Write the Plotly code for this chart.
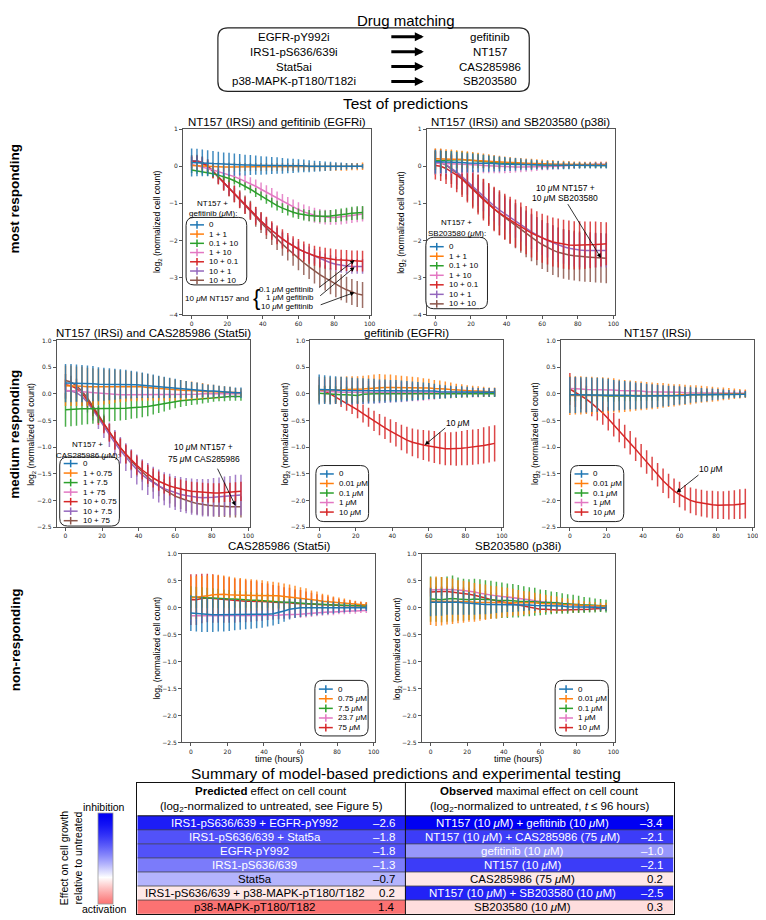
import plotly.graph_objects as go

# ---------------------------------------------------------------- data
HOURS = [0, 3, 6, 9, 12, 15, 18, 21, 24, 27, 30, 33, 36, 39, 42, 45, 48, 51, 54, 57,
         60, 63, 66, 69, 72, 75, 78, 81, 84, 87, 90, 93, 96]

COMBO_LABELS_GEF = ["0", "1 + 1", "0.1 + 10", "1 + 10", "10 + 0.1", "10 + 1", "10 + 10"]
COMBO_LABELS_SB = ["0", "1 + 1", "0.1 + 10", "1 + 10", "10 + 0.1", "10 + 1", "10 + 10"]
COMBO_LABELS_CAS = ["0", "1 + 0.75", "1 + 7.5", "1 + 75", "10 + 0.75", "10 + 7.5", "10 + 75"]
DOSE_LABELS_GEF = ["0", "0.01 μM", "0.1 μM", "1 μM", "10 μM"]
DOSE_LABELS_NT = ["0", "0.01 μM", "0.1 μM", "1 μM", "10 μM"]
DOSE_LABELS_CAS = ["0", "0.75 μM", "7.5 μM", "23.7 μM", "75 μM"]
DOSE_LABELS_SB = ["0", "0.01 μM", "0.1 μM", "1 μM", "10 μM"]

# Panel 1: NT157 + gefitinib
P1_MEANS = [
    [0.10,0.10,0.09,0.08,0.07,0.06,0.05,0.05,0.04,0.04,0.03,0.03,0.03,0.02,0.02,0.02,0.02,0.01,0.01,0.01,0.01,0.01,0.00,0.00,0.00,0.00,0.00,0.00,0.00,0.00,0.00,0.00,0.00],
    [0.02,0.01,0.00,-0.01,-0.02,-0.02,-0.02,-0.02,-0.02,-0.02,-0.02,-0.02,-0.02,-0.02,-0.02,-0.02,-0.02,-0.02,-0.02,-0.02,-0.02,-0.02,-0.02,-0.02,-0.02,-0.02,-0.02,-0.02,-0.02,-0.02,-0.01,-0.01,0.00],
    [-0.10,-0.12,-0.14,-0.17,-0.20,-0.24,-0.28,-0.33,-0.39,-0.46,-0.54,-0.62,-0.71,-0.80,-0.89,-0.98,-1.06,-1.13,-1.19,-1.24,-1.28,-1.31,-1.33,-1.34,-1.35,-1.35,-1.34,-1.33,-1.31,-1.29,-1.27,-1.26,-1.25],
    [0.05,0.02,-0.02,-0.06,-0.10,-0.14,-0.18,-0.23,-0.28,-0.34,-0.40,-0.47,-0.54,-0.62,-0.70,-0.78,-0.87,-0.95,-1.03,-1.10,-1.17,-1.23,-1.28,-1.32,-1.35,-1.37,-1.38,-1.38,-1.37,-1.35,-1.33,-1.31,-1.29],
    [0.12,0.13,0.08,0.00,-0.14,-0.29,-0.45,-0.60,-0.75,-0.90,-1.05,-1.20,-1.34,-1.48,-1.61,-1.73,-1.85,-1.96,-2.06,-2.15,-2.23,-2.30,-2.36,-2.41,-2.45,-2.48,-2.50,-2.52,-2.53,-2.54,-2.55,-2.55,-2.56],
    [0.13,0.14,0.09,0.00,-0.14,-0.29,-0.45,-0.60,-0.75,-0.90,-1.05,-1.20,-1.34,-1.48,-1.61,-1.73,-1.85,-1.96,-2.06,-2.15,-2.23,-2.30,-2.36,-2.43,-2.49,-2.55,-2.60,-2.64,-2.67,-2.69,-2.70,-2.70,-2.70],
    [0.15,0.15,0.10,0.01,-0.13,-0.28,-0.44,-0.59,-0.74,-0.89,-1.04,-1.19,-1.36,-1.52,-1.67,-1.82,-1.96,-2.10,-2.23,-2.36,-2.48,-2.60,-2.71,-2.82,-2.92,-3.01,-3.10,-3.18,-3.26,-3.33,-3.39,-3.44,-3.47],
]
P1_ERRS = [
    [0.38,0.37,0.36,0.35,0.34,0.33,0.32,0.31,0.30,0.29,0.28,0.27,0.26,0.25,0.24,0.23,0.22,0.21,0.20,0.19,0.18,0.17,0.16,0.15,0.14,0.13,0.12,0.11,0.10,0.09,0.08,0.07,0.06],
    [0.12,0.12,0.12,0.12,0.12,0.12,0.12,0.12,0.12,0.12,0.11,0.11,0.11,0.11,0.11,0.11,0.11,0.11,0.11,0.11,0.10,0.10,0.10,0.10,0.10,0.10,0.10,0.10,0.10,0.10,0.10,0.10,0.10],
    [0.08,0.08,0.08,0.09,0.09,0.09,0.10,0.10,0.10,0.11,0.11,0.11,0.12,0.12,0.12,0.13,0.13,0.13,0.14,0.14,0.14,0.15,0.15,0.15,0.16,0.16,0.16,0.17,0.17,0.17,0.18,0.18,0.18],
    [0.10,0.11,0.12,0.12,0.13,0.14,0.14,0.15,0.16,0.16,0.17,0.17,0.18,0.18,0.19,0.19,0.19,0.20,0.20,0.20,0.20,0.20,0.20,0.20,0.20,0.20,0.20,0.20,0.20,0.20,0.20,0.20,0.20],
    [0.15,0.16,0.17,0.18,0.19,0.20,0.21,0.21,0.22,0.22,0.23,0.23,0.24,0.24,0.25,0.25,0.25,0.26,0.26,0.26,0.27,0.27,0.27,0.27,0.28,0.28,0.28,0.28,0.28,0.28,0.28,0.28,0.28],
    [0.12,0.13,0.14,0.15,0.15,0.16,0.16,0.17,0.17,0.18,0.18,0.18,0.19,0.19,0.19,0.20,0.20,0.20,0.20,0.20,0.20,0.20,0.20,0.20,0.20,0.20,0.20,0.20,0.20,0.20,0.20,0.20,0.20],
    [0.15,0.16,0.17,0.18,0.19,0.20,0.21,0.22,0.23,0.24,0.25,0.26,0.27,0.28,0.29,0.30,0.30,0.31,0.31,0.32,0.32,0.33,0.33,0.34,0.34,0.34,0.35,0.35,0.35,0.35,0.35,0.35,0.35],
]

# Panel 2: NT157 + SB203580
P2_MEANS = [
    [0.12,0.12,0.11,0.11,0.10,0.10,0.09,0.09,0.08,0.08,0.07,0.07,0.06,0.06,0.05,0.05,0.05,0.04,0.04,0.04,0.03,0.03,0.03,0.03,0.02,0.02,0.02,0.02,0.02,0.02,0.02,0.02,0.02],
    [0.20,0.20,0.19,0.19,0.18,0.18,0.17,0.16,0.15,0.14,0.13,0.12,0.11,0.10,0.10,0.09,0.08,0.08,0.07,0.07,0.06,0.06,0.06,0.05,0.05,0.05,0.04,0.04,0.04,0.04,0.04,0.04,0.04],
    [0.15,0.16,0.17,0.18,0.18,0.18,0.17,0.16,0.15,0.13,0.12,0.10,0.09,0.08,0.07,0.06,0.05,0.05,0.04,0.04,0.03,0.03,0.03,0.02,0.02,0.02,0.02,0.02,0.02,0.02,0.02,0.02,0.02],
    [0.08,0.08,0.07,0.07,0.06,0.05,0.05,0.04,0.03,0.02,0.01,0.00,-0.01,-0.02,-0.02,-0.02,-0.02,-0.02,-0.02,-0.02,-0.01,-0.01,0.00,0.00,0.01,0.02,0.02,0.03,0.04,0.04,0.05,0.05,0.05],
    [0.02,0.00,-0.06,-0.14,-0.24,-0.35,-0.48,-0.62,-0.76,-0.90,-1.03,-1.15,-1.26,-1.36,-1.45,-1.54,-1.63,-1.72,-1.80,-1.87,-1.94,-1.99,-2.04,-2.07,-2.10,-2.12,-2.13,-2.13,-2.13,-2.12,-2.11,-2.10,-2.09],
    [0.12,0.10,0.04,-0.05,-0.16,-0.28,-0.41,-0.55,-0.69,-0.82,-0.95,-1.07,-1.18,-1.28,-1.38,-1.48,-1.58,-1.68,-1.77,-1.85,-1.93,-2.00,-2.06,-2.12,-2.17,-2.21,-2.24,-2.26,-2.27,-2.27,-2.27,-2.27,-2.27],
    [0.12,0.10,0.03,-0.07,-0.19,-0.32,-0.46,-0.60,-0.74,-0.88,-1.02,-1.15,-1.27,-1.38,-1.49,-1.60,-1.71,-1.82,-1.92,-2.02,-2.11,-2.19,-2.26,-2.32,-2.36,-2.39,-2.41,-2.43,-2.44,-2.45,-2.46,-2.47,-2.48],
]
P2_ERRS = [
    [0.32,0.31,0.30,0.29,0.28,0.27,0.26,0.25,0.24,0.23,0.22,0.21,0.20,0.19,0.18,0.17,0.16,0.15,0.14,0.13,0.12,0.12,0.11,0.11,0.10,0.10,0.09,0.09,0.08,0.08,0.08,0.08,0.08],
    [0.28,0.27,0.27,0.26,0.25,0.24,0.23,0.22,0.21,0.20,0.19,0.18,0.17,0.16,0.15,0.14,0.14,0.13,0.13,0.12,0.12,0.11,0.11,0.10,0.10,0.09,0.09,0.09,0.08,0.08,0.08,0.08,0.08],
    [0.25,0.25,0.24,0.24,0.23,0.22,0.21,0.20,0.19,0.18,0.17,0.16,0.15,0.14,0.13,0.12,0.12,0.11,0.11,0.10,0.10,0.09,0.09,0.08,0.08,0.08,0.07,0.07,0.07,0.07,0.07,0.07,0.07],
    [0.30,0.29,0.28,0.27,0.26,0.25,0.24,0.23,0.22,0.21,0.20,0.19,0.18,0.17,0.16,0.15,0.14,0.13,0.12,0.11,0.10,0.10,0.09,0.09,0.08,0.08,0.08,0.07,0.07,0.07,0.07,0.07,0.07],
    [0.38,0.40,0.42,0.44,0.46,0.48,0.50,0.52,0.54,0.56,0.58,0.60,0.61,0.62,0.63,0.64,0.65,0.65,0.66,0.66,0.66,0.66,0.66,0.66,0.66,0.66,0.65,0.65,0.64,0.63,0.62,0.60,0.58],
    [0.30,0.31,0.32,0.33,0.34,0.35,0.36,0.37,0.38,0.39,0.40,0.41,0.42,0.43,0.44,0.45,0.45,0.46,0.46,0.46,0.46,0.46,0.46,0.46,0.46,0.46,0.46,0.46,0.46,0.46,0.46,0.46,0.46],
    [0.35,0.37,0.39,0.41,0.43,0.45,0.47,0.49,0.51,0.53,0.55,0.57,0.58,0.59,0.60,0.61,0.62,0.63,0.64,0.65,0.66,0.66,0.67,0.67,0.67,0.67,0.67,0.67,0.67,0.67,0.67,0.67,0.67],
]

# Panel 3: NT157 + CAS285986
P3_MEANS = [
    [0.20,0.20,0.20,0.19,0.19,0.19,0.18,0.18,0.18,0.18,0.18,0.18,0.17,0.17,0.16,0.15,0.14,0.13,0.12,0.11,0.10,0.09,0.08,0.07,0.07,0.06,0.05,0.05,0.04,0.03,0.03,0.02,0.02],
    [0.15,0.15,0.14,0.14,0.13,0.13,0.13,0.13,0.13,0.14,0.14,0.14,0.14,0.13,0.13,0.12,0.11,0.10,0.09,0.08,0.07,0.07,0.06,0.06,0.05,0.05,0.04,0.04,0.03,0.03,0.03,0.02,0.02],
    [-0.30,-0.29,-0.29,-0.28,-0.28,-0.28,-0.28,-0.28,-0.27,-0.27,-0.27,-0.27,-0.26,-0.26,-0.25,-0.24,-0.22,-0.20,-0.18,-0.16,-0.14,-0.13,-0.12,-0.11,-0.10,-0.09,-0.08,-0.07,-0.06,-0.06,-0.05,-0.05,-0.05],
    [0.06,0.06,0.05,0.04,0.03,0.02,0.01,0.00,-0.01,-0.01,-0.02,-0.02,-0.02,-0.02,-0.02,-0.02,-0.02,-0.02,-0.02,-0.02,-0.01,-0.01,-0.01,-0.01,-0.01,0.00,0.00,0.00,0.00,0.00,0.00,0.00,0.00],
    [0.17,0.15,0.10,0.01,-0.12,-0.27,-0.42,-0.58,-0.73,-0.88,-1.01,-1.13,-1.24,-1.34,-1.43,-1.51,-1.58,-1.64,-1.69,-1.73,-1.76,-1.79,-1.81,-1.83,-1.84,-1.85,-1.86,-1.86,-1.86,-1.85,-1.85,-1.84,-1.83],
    [0.05,0.05,0.02,-0.05,-0.16,-0.30,-0.45,-0.61,-0.77,-0.92,-1.06,-1.19,-1.31,-1.42,-1.52,-1.60,-1.67,-1.73,-1.78,-1.82,-1.86,-1.89,-1.91,-1.93,-1.94,-1.95,-1.95,-1.94,-1.93,-1.92,-1.91,-1.90,-1.90],
    [0.25,0.22,0.15,0.05,-0.08,-0.23,-0.39,-0.56,-0.72,-0.87,-1.01,-1.14,-1.26,-1.37,-1.47,-1.56,-1.65,-1.73,-1.80,-1.86,-1.92,-1.96,-2.00,-2.03,-2.06,-2.08,-2.09,-2.10,-2.11,-2.11,-2.12,-2.12,-2.12],
]
P3_ERRS = [
    [0.36,0.36,0.35,0.35,0.34,0.33,0.32,0.31,0.30,0.29,0.28,0.27,0.26,0.25,0.24,0.23,0.22,0.21,0.20,0.19,0.18,0.17,0.16,0.15,0.14,0.13,0.12,0.12,0.11,0.11,0.10,0.10,0.10],
    [0.38,0.38,0.37,0.37,0.36,0.35,0.34,0.33,0.32,0.31,0.30,0.29,0.28,0.27,0.26,0.25,0.24,0.23,0.22,0.21,0.20,0.19,0.18,0.17,0.16,0.15,0.14,0.13,0.12,0.11,0.10,0.09,0.08],
    [0.32,0.32,0.31,0.30,0.29,0.28,0.27,0.26,0.25,0.24,0.23,0.22,0.21,0.20,0.19,0.18,0.17,0.16,0.15,0.14,0.13,0.12,0.11,0.10,0.10,0.09,0.09,0.08,0.08,0.08,0.08,0.08,0.08],
    [0.14,0.14,0.13,0.13,0.12,0.12,0.12,0.11,0.11,0.11,0.10,0.10,0.10,0.09,0.09,0.09,0.08,0.08,0.08,0.07,0.07,0.07,0.06,0.06,0.06,0.06,0.05,0.05,0.05,0.05,0.05,0.05,0.05],
    [0.10,0.11,0.12,0.13,0.14,0.15,0.16,0.16,0.17,0.17,0.17,0.18,0.18,0.18,0.18,0.18,0.18,0.18,0.18,0.18,0.18,0.18,0.18,0.18,0.18,0.18,0.18,0.18,0.18,0.18,0.18,0.18,0.18],
    [0.15,0.16,0.17,0.18,0.19,0.20,0.21,0.22,0.23,0.24,0.25,0.26,0.27,0.28,0.29,0.30,0.30,0.31,0.31,0.32,0.32,0.33,0.33,0.34,0.34,0.35,0.35,0.36,0.36,0.37,0.37,0.38,0.38],
    [0.12,0.12,0.13,0.13,0.14,0.14,0.15,0.15,0.16,0.16,0.17,0.17,0.18,0.18,0.18,0.19,0.19,0.19,0.20,0.20,0.20,0.20,0.20,0.20,0.20,0.20,0.20,0.20,0.20,0.20,0.20,0.20,0.20],
]

# Panel 4: gefitinib alone
P4_MEANS = [
    [0.08,0.08,0.07,0.07,0.06,0.06,0.05,0.05,0.05,0.05,0.05,0.05,0.05,0.05,0.05,0.05,0.05,0.05,0.05,0.05,0.05,0.05,0.04,0.04,0.04,0.04,0.04,0.04,0.03,0.03,0.03,0.03,0.03],
    [0.07,0.07,0.06,0.06,0.07,0.08,0.08,0.08,0.09,0.10,0.11,0.12,0.12,0.12,0.12,0.12,0.12,0.12,0.12,0.11,0.11,0.10,0.10,0.09,0.08,0.07,0.07,0.06,0.05,0.05,0.04,0.04,0.04],
    [0.01,0.00,0.00,-0.01,-0.02,-0.02,-0.02,-0.03,-0.01,0.00,0.00,0.00,0.00,0.00,0.00,0.00,0.00,0.00,0.00,0.00,0.00,0.00,0.00,0.00,0.00,0.00,0.00,0.00,0.00,0.00,0.00,0.00,0.00],
    [0.05,0.05,0.04,0.04,0.03,0.03,0.03,0.03,0.03,0.03,0.03,0.03,0.03,0.03,0.03,0.03,0.03,0.03,0.02,0.02,0.02,0.02,0.02,0.02,0.02,0.02,0.02,0.02,0.02,0.02,0.02,0.02,0.02],
    [0.07,0.05,0.00,-0.06,-0.12,-0.18,-0.23,-0.30,-0.37,-0.44,-0.51,-0.58,-0.64,-0.70,-0.76,-0.82,-0.87,-0.91,-0.94,-0.96,-0.98,-1.00,-1.02,-1.03,-1.03,-1.03,-1.02,-1.01,-1.00,-0.99,-0.97,-0.95,-0.93],
]
P4_ERRS = [
    [0.28,0.27,0.27,0.26,0.26,0.25,0.25,0.24,0.24,0.23,0.23,0.22,0.22,0.21,0.21,0.20,0.19,0.18,0.17,0.16,0.15,0.14,0.13,0.12,0.11,0.10,0.10,0.09,0.09,0.08,0.08,0.08,0.08],
    [0.25,0.25,0.25,0.25,0.25,0.25,0.25,0.25,0.25,0.25,0.25,0.25,0.24,0.24,0.23,0.22,0.21,0.20,0.19,0.18,0.17,0.16,0.15,0.14,0.13,0.12,0.11,0.10,0.10,0.09,0.09,0.08,0.08],
    [0.15,0.15,0.15,0.15,0.15,0.15,0.15,0.15,0.14,0.14,0.14,0.14,0.13,0.13,0.13,0.12,0.12,0.12,0.11,0.11,0.10,0.10,0.09,0.09,0.08,0.08,0.07,0.07,0.06,0.06,0.06,0.06,0.06],
    [0.22,0.22,0.22,0.22,0.22,0.22,0.22,0.22,0.22,0.21,0.21,0.21,0.20,0.20,0.19,0.19,0.18,0.17,0.16,0.15,0.14,0.13,0.12,0.11,0.11,0.10,0.10,0.09,0.09,0.09,0.08,0.08,0.08],
    [0.10,0.10,0.11,0.12,0.13,0.14,0.15,0.16,0.17,0.18,0.19,0.20,0.21,0.22,0.23,0.24,0.25,0.26,0.27,0.28,0.29,0.30,0.30,0.31,0.31,0.32,0.32,0.33,0.33,0.33,0.34,0.34,0.34],
]

# Panel 5: NT157 alone
P5_MEANS = [
    [-0.02,-0.02,-0.02,-0.02,-0.02,-0.02,-0.02,-0.02,-0.03,-0.03,-0.03,-0.03,-0.04,-0.04,-0.04,-0.04,-0.04,-0.04,-0.04,-0.03,-0.03,-0.03,-0.02,-0.02,-0.02,-0.02,-0.01,-0.01,-0.01,-0.01,-0.01,-0.01,-0.01],
    [-0.03,-0.03,-0.03,-0.03,-0.03,-0.03,-0.03,-0.03,-0.03,-0.04,-0.04,-0.04,-0.04,-0.04,-0.04,-0.04,-0.04,-0.03,-0.03,-0.03,-0.02,-0.02,-0.02,-0.01,-0.01,-0.01,-0.01,-0.01,0.00,0.00,0.00,0.00,0.00],
    [-0.02,-0.02,-0.02,-0.03,-0.03,-0.03,-0.03,-0.04,-0.04,-0.04,-0.04,-0.04,-0.04,-0.04,-0.04,-0.04,-0.04,-0.04,-0.03,-0.03,-0.03,-0.02,-0.02,-0.02,-0.02,-0.01,-0.01,-0.01,-0.01,-0.01,-0.01,-0.01,-0.01],
    [0.10,0.10,0.09,0.08,0.08,0.08,0.08,0.07,0.07,0.06,0.06,0.05,0.05,0.05,0.04,0.04,0.04,0.03,0.03,0.03,0.03,0.02,0.02,0.02,0.02,0.02,0.02,0.02,0.01,0.01,0.01,0.01,0.01],
    [0.09,0.03,-0.03,-0.10,-0.18,-0.27,-0.36,-0.47,-0.58,-0.69,-0.80,-0.92,-1.04,-1.16,-1.28,-1.40,-1.52,-1.63,-1.73,-1.82,-1.89,-1.95,-2.00,-2.03,-2.05,-2.07,-2.08,-2.09,-2.09,-2.09,-2.08,-2.07,-2.06],
]
P5_ERRS = [
    [0.34,0.34,0.33,0.33,0.32,0.32,0.31,0.30,0.29,0.28,0.27,0.26,0.25,0.24,0.23,0.22,0.21,0.20,0.19,0.18,0.17,0.16,0.15,0.14,0.13,0.12,0.11,0.10,0.09,0.08,0.07,0.07,0.06],
    [0.37,0.36,0.36,0.35,0.35,0.34,0.34,0.33,0.32,0.31,0.30,0.29,0.28,0.27,0.26,0.25,0.24,0.23,0.22,0.21,0.20,0.19,0.18,0.17,0.16,0.15,0.14,0.13,0.12,0.11,0.10,0.09,0.08],
    [0.12,0.12,0.12,0.12,0.12,0.11,0.11,0.11,0.11,0.10,0.10,0.10,0.10,0.09,0.09,0.09,0.09,0.08,0.08,0.08,0.08,0.07,0.07,0.07,0.07,0.06,0.06,0.06,0.06,0.05,0.05,0.05,0.05],
    [0.20,0.20,0.19,0.19,0.18,0.18,0.17,0.17,0.16,0.16,0.15,0.15,0.14,0.14,0.13,0.13,0.12,0.12,0.11,0.11,0.10,0.10,0.09,0.09,0.08,0.08,0.07,0.07,0.07,0.06,0.06,0.06,0.06],
    [0.30,0.28,0.26,0.25,0.24,0.23,0.22,0.22,0.22,0.22,0.22,0.22,0.22,0.22,0.22,0.22,0.22,0.23,0.23,0.23,0.24,0.24,0.24,0.25,0.25,0.25,0.26,0.26,0.26,0.27,0.27,0.28,0.28],
]

# Panel 6: CAS285986 alone
P6_MEANS = [
    [-0.10,-0.11,-0.12,-0.13,-0.13,-0.13,-0.13,-0.13,-0.13,-0.13,-0.13,-0.13,-0.13,-0.13,-0.12,-0.11,-0.09,-0.06,-0.03,-0.01,0.00,0.00,0.00,0.00,0.00,0.00,0.00,0.00,0.00,0.00,0.00,0.00,0.00],
    [0.18,0.19,0.20,0.22,0.24,0.25,0.25,0.24,0.23,0.23,0.23,0.23,0.23,0.23,0.22,0.22,0.22,0.21,0.20,0.19,0.18,0.17,0.15,0.14,0.12,0.11,0.10,0.09,0.08,0.07,0.06,0.05,0.05],
    [0.20,0.19,0.19,0.18,0.18,0.17,0.17,0.16,0.16,0.15,0.15,0.14,0.14,0.13,0.13,0.12,0.11,0.10,0.10,0.09,0.08,0.08,0.07,0.07,0.06,0.06,0.05,0.05,0.04,0.04,0.04,0.03,0.03],
    [-0.15,-0.15,-0.15,-0.15,-0.15,-0.15,-0.15,-0.15,-0.15,-0.15,-0.15,-0.15,-0.15,-0.15,-0.14,-0.14,-0.14,-0.13,-0.13,-0.12,-0.12,-0.11,-0.10,-0.10,-0.09,-0.08,-0.08,-0.07,-0.07,-0.06,-0.06,-0.05,-0.05],
    [0.15,0.15,0.17,0.18,0.17,0.16,0.15,0.14,0.13,0.13,0.12,0.12,0.12,0.11,0.11,0.10,0.10,0.09,0.09,0.08,0.08,0.07,0.07,0.06,0.06,0.05,0.05,0.04,0.04,0.04,0.03,0.03,0.03],
]
P6_ERRS = [
    [0.33,0.33,0.33,0.32,0.32,0.31,0.31,0.30,0.29,0.28,0.27,0.26,0.25,0.24,0.23,0.22,0.21,0.20,0.19,0.18,0.17,0.16,0.15,0.14,0.13,0.12,0.11,0.10,0.09,0.08,0.07,0.06,0.06],
    [0.40,0.40,0.39,0.38,0.37,0.36,0.35,0.34,0.33,0.32,0.31,0.30,0.29,0.28,0.27,0.26,0.25,0.24,0.23,0.22,0.20,0.19,0.17,0.16,0.14,0.13,0.11,0.10,0.09,0.08,0.07,0.06,0.05],
    [0.20,0.20,0.19,0.19,0.18,0.18,0.17,0.17,0.16,0.16,0.15,0.15,0.14,0.14,0.13,0.13,0.12,0.12,0.11,0.11,0.10,0.10,0.09,0.09,0.08,0.08,0.07,0.07,0.06,0.06,0.05,0.05,0.05],
    [0.10,0.10,0.10,0.10,0.10,0.10,0.10,0.10,0.10,0.10,0.09,0.09,0.09,0.09,0.09,0.08,0.08,0.08,0.08,0.07,0.07,0.07,0.07,0.06,0.06,0.06,0.06,0.05,0.05,0.05,0.05,0.05,0.05],
    [0.47,0.47,0.46,0.45,0.45,0.44,0.43,0.42,0.41,0.40,0.39,0.38,0.37,0.35,0.34,0.32,0.31,0.29,0.28,0.26,0.25,0.23,0.21,0.19,0.17,0.16,0.14,0.12,0.11,0.10,0.09,0.08,0.07],
]

# Panel 7: SB203580 alone
P7_MEANS = [
    [0.10,0.10,0.10,0.11,0.11,0.10,0.09,0.08,0.07,0.07,0.06,0.06,0.06,0.06,0.06,0.05,0.05,0.05,0.05,0.04,0.04,0.04,0.03,0.03,0.03,0.02,0.02,0.02,0.01,0.01,0.01,0.00,0.00],
    [0.12,0.12,0.12,0.12,0.12,0.11,0.11,0.11,0.10,0.10,0.10,0.10,0.10,0.10,0.10,0.10,0.09,0.09,0.09,0.09,0.08,0.08,0.07,0.07,0.06,0.06,0.05,0.05,0.04,0.04,0.03,0.03,0.03],
    [0.16,0.15,0.15,0.16,0.17,0.16,0.15,0.15,0.16,0.16,0.15,0.15,0.14,0.14,0.13,0.13,0.12,0.12,0.11,0.11,0.10,0.10,0.09,0.09,0.08,0.07,0.07,0.06,0.05,0.05,0.04,0.04,0.03],
    [0.33,0.34,0.34,0.34,0.34,0.33,0.32,0.31,0.29,0.27,0.25,0.23,0.22,0.21,0.20,0.19,0.18,0.17,0.15,0.13,0.11,0.10,0.09,0.08,0.07,0.06,0.05,0.04,0.03,0.02,0.02,0.01,0.01],
    [0.29,0.30,0.30,0.30,0.29,0.28,0.27,0.25,0.23,0.21,0.18,0.15,0.13,0.11,0.09,0.07,0.05,0.03,0.01,-0.01,-0.03,-0.03,-0.04,-0.04,-0.04,-0.04,-0.04,-0.04,-0.03,-0.03,-0.02,-0.02,-0.01],
]
P7_ERRS = [
    [0.26,0.25,0.25,0.24,0.24,0.23,0.22,0.21,0.20,0.19,0.18,0.17,0.16,0.15,0.14,0.13,0.12,0.11,0.10,0.10,0.09,0.09,0.08,0.08,0.07,0.07,0.06,0.06,0.06,0.05,0.05,0.05,0.05],
    [0.44,0.46,0.45,0.43,0.42,0.40,0.39,0.37,0.36,0.34,0.33,0.31,0.30,0.28,0.27,0.25,0.24,0.22,0.21,0.19,0.18,0.16,0.15,0.14,0.12,0.11,0.10,0.09,0.08,0.07,0.07,0.06,0.06],
    [0.42,0.41,0.42,0.42,0.43,0.40,0.39,0.38,0.38,0.37,0.36,0.35,0.34,0.33,0.32,0.31,0.30,0.28,0.27,0.26,0.24,0.23,0.21,0.20,0.19,0.18,0.17,0.16,0.15,0.14,0.13,0.12,0.12],
    [0.06,0.06,0.06,0.06,0.06,0.06,0.06,0.06,0.06,0.06,0.06,0.06,0.06,0.06,0.06,0.06,0.06,0.06,0.06,0.06,0.06,0.06,0.05,0.05,0.05,0.05,0.05,0.05,0.05,0.05,0.05,0.05,0.05],
    [0.08,0.08,0.08,0.08,0.08,0.08,0.08,0.08,0.08,0.08,0.07,0.07,0.07,0.07,0.07,0.07,0.07,0.07,0.06,0.06,0.06,0.06,0.06,0.06,0.05,0.05,0.05,0.05,0.05,0.05,0.05,0.05,0.05],
]

# Drug matching
TARGETS = ["EGFR-pY992i", "IRS1-pS636/639i", "Stat5ai", "p38-MAPK-pT180/T182i"]
DRUGS = ["gefitinib", "NT157", "CAS285986", "SB203580"]

# Summary table
PRED_LABELS = ["IRS1-pS636/639 + EGFR-pY992", "IRS1-pS636/639 + Stat5a", "EGFR-pY992",
               "IRS1-pS636/639", "Stat5a", "IRS1-pS636/639 + p38-MAPK-pT180/T182",
               "p38-MAPK-pT180/T182"]
PRED_VALUES = [-2.6, -1.8, -1.8, -1.3, -0.7, 0.2, 1.4]
OBS_LABELS = ["NT157 (10 μM) + gefitinib (10 μM)", "NT157 (10 μM) + CAS285986 (75 μM)",
              "gefitinib (10 μM)", "NT157 (10 μM)", "CAS285986 (75 μM)",
              "NT157 (10 μM) + SB203580 (10 μM)", "SB203580 (10 μM)"]
OBS_VALUES = [-3.4, -2.1, -1.0, -2.1, 0.2, -2.5, 0.3]

# ---------------------------------------------------------------- style
W, H = 766, 920
OFF = 8          # page body margin of the browser
SERIES_COLORS = ["#1f77b4", "#ff7f0e", "#2ca02c", "#e377c2", "#d62728", "#9467bd", "#8c564b"]
SANS = "Liberation Sans, Arial, sans-serif"
TICKFONT = dict(family="DejaVu Sans, sans-serif", size=6, color="#222")
XRANGE = [-4.8, 100.8]
VMAX = 3.4


def effect_rgb(v):
    t = min(abs(v) / VMAX, 1.0)
    g = 255 * (1 - t) ** 1.5
    if v < 0:
        return "rgb(%d,%d,%d)" % (g, g, 255 - 12 * t)
    return "rgb(%d,%d,%d)" % (255 - 8 * t, g, g)


N_STOPS = 24
TABLE_SCALE = [[i / N_STOPS, effect_rgb(-VMAX + 2 * VMAX * i / N_STOPS)] for i in range(N_STOPS + 1)]
CB_LO, CB_HI = -1.4, 3.4   # colour bar shows "inhibition" (= -effect) from -1.4 to 3.4
CB_SCALE = [[i / N_STOPS, effect_rgb(-(CB_LO + (CB_HI - CB_LO) * i / N_STOPS))] for i in range(N_STOPS + 1)]


def PX(x):
    return (x - OFF) / W


def PY(y):
    return 1 - (y - OFF) / H


def rgba(hexcol, a):
    h = hexcol.lstrip("#")
    return "rgba(%d,%d,%d,%.2f)" % (int(h[0:2], 16), int(h[2:4], 16), int(h[4:6], 16), a)


def mu(s):
    return s.replace("μ", "<i>μ</i>")


def rrect_path(x0, y0, x1, y1, r):
    X0, X1 = PX(x0), PX(x1)
    Y0, Y1 = PY(y0), PY(y1)
    rx, ry = r / W, r / H
    return (f"M {X0+rx},{Y0} L {X1-rx},{Y0} Q {X1},{Y0} {X1},{Y0-ry} "
            f"L {X1},{Y1+ry} Q {X1},{Y1} {X1-rx},{Y1} L {X0+rx},{Y1} "
            f"Q {X0},{Y1} {X0},{Y1+ry} L {X0},{Y0-ry} Q {X0},{Y0} {X0+rx},{Y0} Z")


YT_A = [-4, -3, -2, -1, 0, 1]
YT_B = [-2.5, -2, -1.5, -1, -0.5, 0, 0.5, 1]
PANELS = [
    dict(box=(184, 373, 126, 313), yrange=(-4, 1), ytick=YT_A, yfmt="d",
         title="NT157 (IRSi) and gefitinib (EGFRi)", means=P1_MEANS, errs=P1_ERRS,
         labels=COMBO_LABELS_GEF, legend=(187, 215, 248, 283, 222.5, 9.3),
         ltitle=[("NT157 +", 213.5, 201), ("gefitinib (μM):", 214.5, 211)], xlabel=False),
    dict(box=(429, 618, 126, 313), yrange=(-4, 1), ytick=YT_A, yfmt="d",
         title="NT157 (IRSi) and SB203580 (p38i)", means=P2_MEANS, errs=P2_ERRS,
         labels=COMBO_LABELS_SB, legend=(428, 235, 490, 307, 244.5, 9.6),
         ltitle=[("NT157 +", 458.5, 220), ("SB203580 (μM):", 459, 231.5)], xlabel=False),
    dict(box=(57, 251, 339, 527), yrange=(-2.5, 1), ytick=YT_B, yfmt=".1f",
         title="NT157 (IRSi) and CAS285986 (Stat5i)", means=P3_MEANS, errs=P3_ERRS,
         labels=COMBO_LABELS_CAS, legend=(60, 456.5, 120, 526, 463, 9.6),
         ltitle=[("NT157 +", 88, 444), ("CAS285986 (μM):", 88.5, 455)], xlabel=False),
    dict(box=(312, 506, 339, 527), yrange=(-2.5, 1), ytick=YT_B, yfmt=".1f",
         title="gefitinib (EGFRi)", means=P4_MEANS, errs=P4_ERRS,
         labels=DOSE_LABELS_GEF, legend=(317.5, 465, 370.5, 521.5, 473.5, 9.6), ltitle=[], xlabel=False),
    dict(box=(564, 758, 339, 527), yrange=(-2.5, 1), ytick=YT_B, yfmt=".1f",
         title="NT157 (IRSi)", means=P5_MEANS, errs=P5_ERRS,
         labels=DOSE_LABELS_NT, legend=(573.5, 465, 627, 521.5, 473.5, 9.6), ltitle=[], xlabel=False),
    dict(box=(183, 377, 554, 744), yrange=(-2.5, 1), ytick=YT_B, yfmt=".1f",
         title="CAS285986 (Stat5i)", means=P6_MEANS, errs=P6_ERRS,
         labels=DOSE_LABELS_CAS, legend=(316.5, 681.5, 370, 737.5, 690.3, 9.7), ltitle=[], xlabel=True),
    dict(box=(424, 618, 554, 744), yrange=(-2.5, 1), ytick=YT_B, yfmt=".1f",
         title="SB203580 (p38i)", means=P7_MEANS, errs=P7_ERRS,
         labels=DOSE_LABELS_SB, legend=(558, 681.5, 611.5, 737.5, 690.3, 9.7), ltitle=[], xlabel=True),
]

fig = go.Figure()
annotations = []
shapes = []
layout_axes = {}


def to_px(p, x, y):
    l, r, t, b = p["box"]
    y0, y1 = p["yrange"]
    return (l + (x - XRANGE[0]) / (XRANGE[1] - XRANGE[0]) * (r - l),
            b - (y - y0) / (y1 - y0) * (b - t))


def text(x, y, s, size=8, anchor="center", angle=0, color="black", family=SANS, xref="paper", yref="paper"):
    annotations.append(dict(x=PX(x) if xref == "paper" else x, y=PY(y) if yref == "paper" else y,
                            xref=xref, yref=yref, text=s, showarrow=False, xanchor=anchor,
                            yanchor="middle", textangle=angle,
                            font=dict(family=family, size=size, color=color)))


def arrow(p, k, hx, hy, tx, ty, width=0.8):
    hpx, hpy = to_px(p, hx, hy)
    xr = "x" if k == 1 else f"x{k}"
    yr = "y" if k == 1 else f"y{k}"
    annotations.append(dict(x=hx, y=hy, xref=xr, yref=yr, ax=tx - hpx, ay=ty - hpy,
                            text="", showarrow=True, arrowhead=2, arrowsize=1.1,
                            arrowwidth=width, arrowcolor="black"))


for i, p in enumerate(PANELS):
    k = i + 1
    xa = "xaxis" if k == 1 else f"xaxis{k}"
    ya = "yaxis" if k == 1 else f"yaxis{k}"
    xr = "x" if k == 1 else f"x{k}"
    yr = "y" if k == 1 else f"y{k}"
    l, r, t, b = p["box"]
    common = dict(showline=True, mirror=True, linecolor="#555", linewidth=1, ticks="outside",
                  ticklen=3, tickwidth=0.8, tickcolor="#555", showgrid=False, zeroline=False,
                  tickfont=TICKFONT, fixedrange=True)
    layout_axes[xa] = dict(domain=[PX(l), PX(r)], anchor=yr, range=XRANGE,
                           tickvals=[0, 20, 40, 60, 80, 100], **common)
    layout_axes[ya] = dict(domain=[PY(b), PY(t)], anchor=xr, range=list(p["yrange"]),
                           tickvals=p["ytick"], tickformat=p["yfmt"], **common)
    n = len(p["means"])
    for s in reversed(range(n)):
        c = SERIES_COLORS[s]
        fig.add_trace(go.Scatter(
            x=HOURS, y=p["means"][s], mode="lines", xaxis=xr, yaxis=yr,
            line=dict(color=c, width=1.5), showlegend=False, hoverinfo="skip",
            error_y=dict(type="data", array=p["errs"][s], visible=True, color=rgba(c, 0.85),
                         thickness=1.5, width=0)))
    text((l + r) / 2, t - 7.5, p["title"], size=11.5)
    text(l - 25, (t + b) / 2, "log<sub>2</sub> (normalized cell count)", size=8.5, angle=-90)
    if p["xlabel"]:
        text((l + r) / 2, b + 17, "time (hours)", size=9)
    L, T, R, B, first, step = p["legend"]
    shapes.append(dict(type="path", path=rrect_path(L, T, R, B, 8), xref="paper", yref="paper",
                       line=dict(color="#222", width=1), fillcolor="rgba(255,255,255,0.85)", layer="above"))
    for s, lab in enumerate(p["labels"]):
        yy = first + s * step
        c = SERIES_COLORS[s]
        shapes.append(dict(type="line", xref="paper", yref="paper", x0=PX(L + 4), x1=PX(L + 18),
                           y0=PY(yy), y1=PY(yy), line=dict(color=c, width=1.5), layer="above"))
        shapes.append(dict(type="line", xref="paper", yref="paper", x0=PX(L + 11), x1=PX(L + 11),
                           y0=PY(yy - 3.8), y1=PY(yy + 3.8), line=dict(color=c, width=1.5), layer="above"))
        text(L + 21, yy, mu(lab), size=8, anchor="left")
    for (s, x, y) in p["ltitle"]:
        text(x, y, mu(s), size=8)

# ---- panel annotations
P1, P2, P3, P4, P5 = PANELS[0], PANELS[1], PANELS[2], PANELS[3], PANELS[4]
text(252, 296.5, "10 <i>μ</i>M NT157 and", size=8, anchor="right")
text(257.5, 295.5, "{", size=22)
text(318, 287.7, "0.1 <i>μ</i>M gefitinib", size=8, anchor="right")
text(318, 296, "1 <i>μ</i>M gefitinib", size=8, anchor="right")
text(318, 304.3, "10 <i>μ</i>M gefitinib", size=8, anchor="right")
arrow(P1, 1, 91.5, -2.53, 319.5, 286.5)
arrow(P1, 1, 91.5, -2.72, 320.5, 295)
arrow(P1, 1, 91.5, -3.40, 321, 303.5)

text(568, 185, "10 <i>μ</i>M NT157 +", size=8.5)
text(568, 195.5, "10 <i>μ</i>M SB203580", size=8.5)
arrow(P2, 2, 93, -2.47, 570, 200.5)

text(205, 446.7, "10 <i>μ</i>M NT157 +", size=8.5)
text(205, 458.3, "75 <i>μ</i>M CAS285986", size=8.5)
arrow(P3, 3, 93, -2.1, 218, 467)

text(460, 421.7, "10 <i>μ</i>M", size=8.5)
arrow(P4, 4, 57.8, -0.96, 449, 426)

text(715, 468.3, "10 <i>μ</i>M", size=8.5)
arrow(P5, 5, 58.4, -1.85, 703.5, 473.5)

# ---- headings and row labels
text(408, 16.5, "Drug matching", size=15)
text(408, 100, "Test of predictions", size=15.5)
text(408, 775, "Summary of model-based predictions and experimental testing", size=15.5)
text(15, 196, "<b>most responding</b>", size=13.5, angle=-90)
text(15, 433, "<b>medium responding</b>", size=13.5, angle=-90)
text(15, 640, "<b>non-responding</b>", size=13.5, angle=-90)

# ---- drug matching box
shapes.append(dict(type="path", path=rrect_path(219, 24, 532, 88, 10), xref="paper", yref="paper",
                   line=dict(color="#222", width=1.2)))
for j, (tg, dr) in enumerate(zip(TARGETS, DRUGS)):
    yy = 33 + j * 15
    text(295, yy, tg, size=11.5)
    text(493, yy, dr, size=11.5)
    annotations.append(dict(x=PX(426), y=PY(yy), xref="paper", yref="paper", ax=-34, ay=0,
                            text="", showarrow=True, arrowhead=2, arrowsize=0.6, arrowwidth=3,
                            arrowcolor="black"))

# ---- summary table (heatmap)
HDR = 2.33
fig.add_trace(go.Heatmap(
    z=[[pv, ov] for pv, ov in zip(PRED_VALUES, OBS_VALUES)], x=[0, 1], y=list(range(len(PRED_VALUES))),
    colorscale=TABLE_SCALE, zmin=-VMAX, zmax=VMAX, showscale=False, xaxis="x8", yaxis="y8",
    hoverinfo="skip"))
layout_axes["xaxis8"] = dict(domain=[PX(138), PX(677)], anchor="y8", range=[-0.5, 1.5],
                             showline=True, mirror=True, linecolor="#111", linewidth=1,
                             showticklabels=False, ticks="", showgrid=False, zeroline=False, fixedrange=True)
layout_axes["yaxis8"] = dict(domain=[PY(917), PY(785)], anchor="x8", range=[6.5, -0.5 - HDR],
                             showline=True, mirror=True, linecolor="#111", linewidth=1,
                             showticklabels=False, ticks="", showgrid=False, zeroline=False, fixedrange=True)
for kk in range(-1, len(PRED_VALUES) - 1):
    shapes.append(dict(type="line", xref="x8", yref="y8", x0=-0.5, x1=1.5, y0=kk + 0.5, y1=kk + 0.5,
                       line=dict(color="#111" if kk == -1 else "#444", width=1 if kk == -1 else 0.8),
                       layer="above"))
shapes.append(dict(type="line", xref="x8", yref="y8", x0=0.5, x1=0.5, y0=-0.5 - HDR, y1=6.5,
                   line=dict(color="#111", width=1), layer="above"))


def fmt(v):
    return ("%.1f" % v).replace("-", "–")


for col, (labels, values) in enumerate([(PRED_LABELS, PRED_VALUES), (OBS_LABELS, OBS_VALUES)]):
    for row, (lab, v) in enumerate(zip(labels, values)):
        tc = "white" if v <= -0.9 else "black"
        text(col - 0.062, row, mu(lab), size=11.5, color=tc, xref="x8", yref="y8")
        text(col + 0.468, row, fmt(v), size=11.5, color=tc, anchor="right", xref="x8", yref="y8")

text(272.5, 793, "<b>Predicted</b> effect on cell count", size=11.5)
text(272.5, 809, "(log<sub>2</sub>-normalized to untreated, see Figure 5)", size=11.5)
text(542, 793, "<b>Observed</b> maximal effect on cell count", size=11.5)
text(542, 809, "(log<sub>2</sub>-normalized to untreated, <i>t</i> ≤ 96 hours)", size=11.5)

# ---- colour bar
fig.add_trace(go.Scatter(
    x=[None], y=[None], mode="markers", xaxis="x8", yaxis="y8", showlegend=False, hoverinfo="skip",
    marker=dict(color=[0.0], colorscale=CB_SCALE, cmin=CB_LO, cmax=CB_HI, showscale=True,
                colorbar=dict(x=PX(98), xanchor="left", y=PY(861), yanchor="middle",
                              len=92 / H, lenmode="fraction", thickness=15, thicknessmode="pixels",
                              outlinewidth=0.8, outlinecolor="#999", showticklabels=False, ticks="",
                              xpad=0, ypad=0))))
text(105, 809, "inhibition", size=10.5)
text(105, 912, "activation", size=10.5)
text(71, 860, "Effect on cell growth<br>relative to untreated", size=10.5, angle=-90)

fig.update_layout(width=W, height=H, margin=dict(l=0, r=0, t=0, b=0), paper_bgcolor="white",
                  plot_bgcolor="white", showlegend=False, annotations=annotations, shapes=shapes,
                  **layout_axes)
fig.write_html("out.html")
